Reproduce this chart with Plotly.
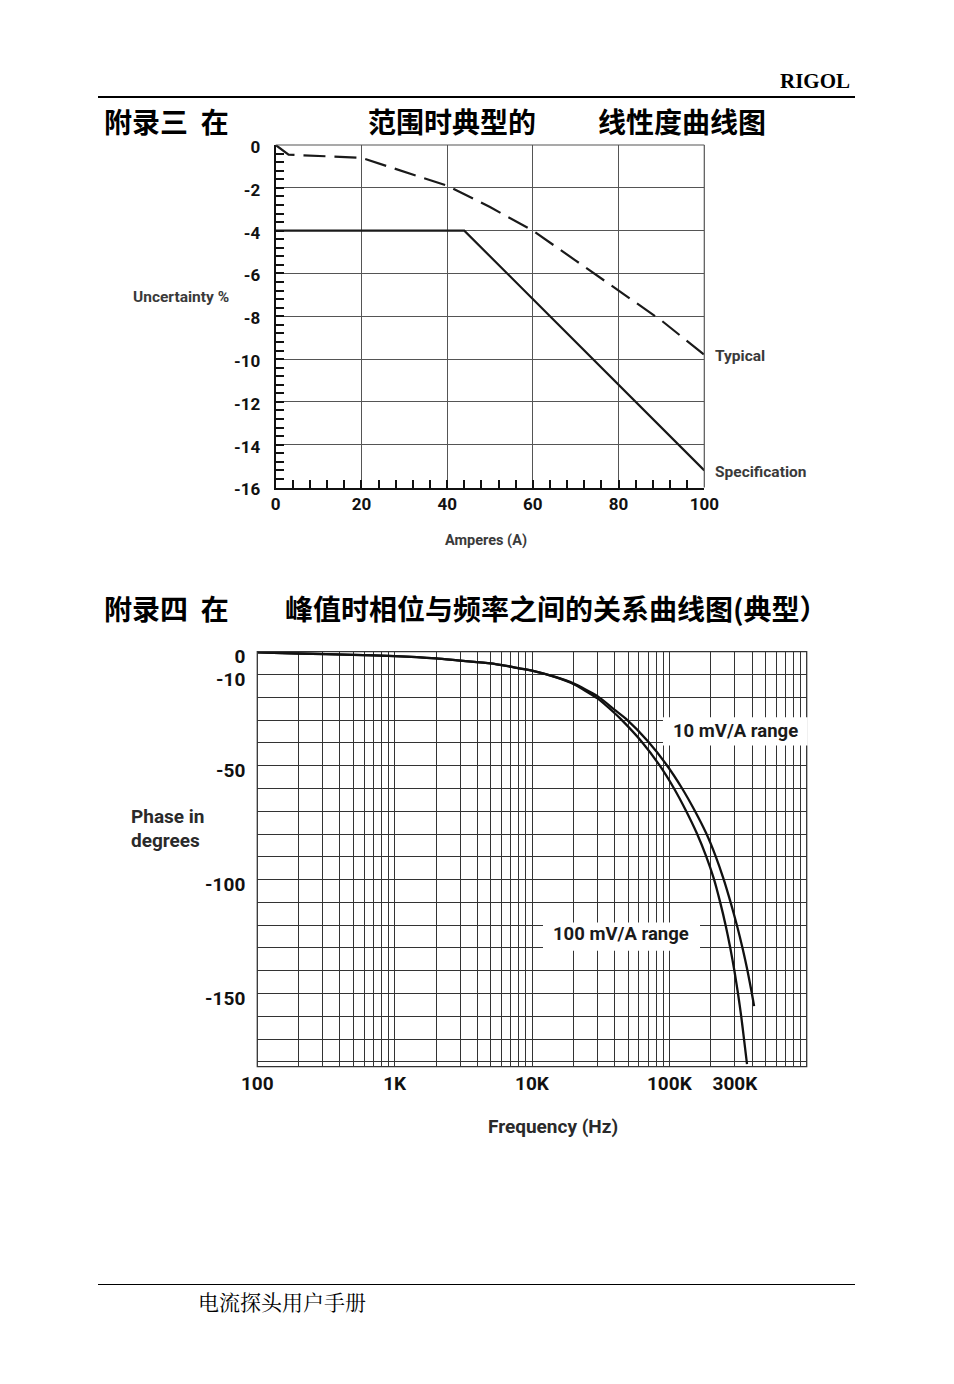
import plotly.graph_objects as go

W, H = 954, 1384

# ---------- Chart 1: uncertainty vs amperes ----------
amps_typical = [0, 3, 20, 30, 40, 50, 60, 70, 80, 90, 100]
uncert_typical = [0, -0.45, -0.6, -1.25, -1.9, -2.9, -4.0, -5.4, -6.8, -8.2, -9.8]
amps_spec = [0, 44, 100]
uncert_spec = [-4.0, -4.0, -15.2]
amp_ticks = [0, 20, 40, 60, 80, 100]
amp_ticktext = ["0", "20", "40", "60", "80", "100"]
unc_ticks = [0, -2, -4, -6, -8, -10, -12, -14, -16]
unc_ticktext = ["0", "-2", "-4", "-6", "-8", "-10", "-12", "-14", "-16"]

# ---------- Chart 2: phase vs frequency ----------
freq_10mv = [100, 200, 500, 1000, 2000, 3000, 5000, 7000, 10000, 15000, 20000,
             30000, 40000, 48400, 70300, 95600, 123000, 153200, 185500, 216800,
             248000, 279300, 310300, 340900, 370700, 399000, 414000]
phase_10mv = [-0.3, -0.8, -1.4, -1.9, -2.9, -3.9, -5.1, -6.6, -8.3, -11.2, -13.9,
              -19.5, -25.5, -29.5, -39.5, -49.7, -59.7, -69.8, -79.7, -89.6,
              -99.7, -110, -120, -130, -140, -150, -155.5]
freq_100mv = [100, 200, 500, 1000, 2000, 3000, 5000, 7000, 10000, 15000, 20000,
              30000, 40000, 44200, 62900, 84500, 107400, 132200, 158500, 184900,
              211000, 234500, 256800, 277800, 297600, 316100, 333600, 349600, 367600]
phase_100mv = [-0.3, -0.8, -1.4, -1.9, -2.9, -3.9, -5.1, -6.6, -8.3, -11.3, -14.2,
               -20.5, -27, -29.5, -39.5, -49.7, -59.7, -69.8, -79.7, -89.6,
               -99.7, -110, -120, -130, -140, -150, -160, -170, -181]
freq_labels = {100: "100", 1000: "1K", 10000: "10K", 100000: "100K", 300000: "300K"}
phase_labels = {0: "0", -10: "-10", -50: "-50", -100: "-100", -150: "-150"}

freq_grid = [m * 10 ** e for e in range(2, 6) for m in range(1, 10)] + [10 ** 6]
freq_ticktext = [freq_labels.get(v, "") for v in freq_grid]
phase_grid = list(range(0, -190, -10))
phase_ticktext = [phase_labels.get(v, "") for v in phase_grid]

FONT = "Roboto, Arial, sans-serif"
CJK = "Noto Sans CJK SC"

fig = go.Figure()

fig.add_trace(go.Scatter(x=amps_typical, y=uncert_typical, mode="lines",
                         line=dict(color="#1a1a1a", width=2.2, dash="22px,9px"),
                         xaxis="x", yaxis="y", showlegend=False))
fig.add_trace(go.Scatter(x=amps_spec, y=uncert_spec, mode="lines",
                         line=dict(color="#1a1a1a", width=2.2),
                         xaxis="x", yaxis="y", showlegend=False))
fig.add_trace(go.Scatter(x=freq_10mv, y=phase_10mv, mode="lines",
                         line=dict(color="#111", width=2.3, shape="spline", smoothing=0.6),
                         xaxis="x2", yaxis="y2", showlegend=False))
fig.add_trace(go.Scatter(x=freq_100mv, y=phase_100mv, mode="lines",
                         line=dict(color="#111", width=2.3, shape="spline", smoothing=0.6),
                         xaxis="x2", yaxis="y2", showlegend=False))

def py(y):
    return 1 - y / H

def px(x):
    return x / W

tick_font_top = dict(family=FONT, size=17, color="#111", weight="bold")
tick_font_bot = dict(family=FONT, size=19, color="#111", weight="bold")

fig.update_layout(
    width=W, height=H, autosize=False, showlegend=False,
    margin=dict(l=0, r=0, t=0, b=0, pad=0, autoexpand=False),
    paper_bgcolor="white", plot_bgcolor="white",
    xaxis=dict(domain=[px(275.7), px(704.3)], range=[0, 100], anchor="y",
               tickmode="array", tickvals=amp_ticks, ticktext=amp_ticktext,
               showgrid=True, gridcolor="#555", gridwidth=1, zeroline=False,
               showline=True, linecolor="#111", linewidth=2,
               ticks="inside", ticklen=8, tickcolor="#111", tickwidth=1.5,
               minor=dict(dtick=4, ticks="inside", ticklen=8, tickcolor="#111",
                          tickwidth=1.5, showgrid=False),
               tickfont=tick_font_top, ticklabelstandoff=0, automargin=False,
               fixedrange=True),
    yaxis=dict(domain=[py(487.5), py(145)], range=[-16, 0], anchor="x",
               tickmode="array", tickvals=unc_ticks, ticktext=unc_ticktext,
               showgrid=True, gridcolor="#555", gridwidth=1, zeroline=False,
               showline=True, linecolor="#111", linewidth=2,
               ticks="inside", ticklen=8, tickcolor="#111", tickwidth=1.5,
               minor=dict(dtick=0.4, ticks="inside", ticklen=8, tickcolor="#111",
                          tickwidth=1.5, showgrid=False),
               tickfont=tick_font_top, ticklabelstandoff=10, ticklabelshift=2,
               automargin=False, fixedrange=True),
    xaxis2=dict(domain=[px(257.3), px(806.7)], type="log", range=[2, 6], anchor="y2",
                tickmode="array", tickvals=freq_grid, ticktext=freq_ticktext,
                showgrid=True, gridcolor="#333", gridwidth=1, zeroline=False,
                showline=False, ticks="", tickfont=tick_font_bot,
                ticklabelstandoff=3, automargin=False, fixedrange=True),
    yaxis2=dict(domain=[py(1066.7), py(651.7)], range=[-182.1, 0], anchor="x2",
                tickmode="array", tickvals=phase_grid, ticktext=phase_ticktext,
                showgrid=True, gridcolor="#333", gridwidth=1, zeroline=False,
                showline=False, ticks="", tickfont=tick_font_bot,
                ticklabelstandoff=11, ticklabelshift=5, automargin=False,
                fixedrange=True),
)

shapes = [
    # top chart top/right border
    dict(type="line", xref="x domain", yref="y domain", x0=0, x1=1, y0=1, y1=1,
         line=dict(color="#555", width=1.2)),
    dict(type="line", xref="x domain", yref="y domain", x0=1, x1=1, y0=0, y1=1,
         line=dict(color="#555", width=1.2)),
    # bottom chart border
    dict(type="rect", xref="x2 domain", yref="y2 domain", x0=0, x1=1, y0=0, y1=1,
         line=dict(color="#333", width=1.3)),
    # label boxes
    dict(type="rect", xref="x2 domain", yref="y2", x0=0.7384, x1=1.002, y0=-41.2, y1=-28.8,
         fillcolor="white", line=dict(width=0)),
    dict(type="rect", xref="x2 domain", yref="y2", x0=0.520, x1=0.8058, y0=-131.2, y1=-118.8,
         fillcolor="white", line=dict(width=0)),
    # page rules
    dict(type="line", xref="paper", yref="paper", x0=px(98), x1=px(855), y0=py(97), y1=py(97),
         line=dict(color="black", width=2)),
    dict(type="line", xref="paper", yref="paper", x0=px(98), x1=px(855), y0=py(1284.5), y1=py(1284.5),
         line=dict(color="black", width=1.2)),
]
fig.update_layout(shapes=shapes)

def ann(text, x, y, size, xanchor="left", family=FONT, weight="normal", color="#222"):
    fig.add_annotation(text=text, xref="paper", yref="paper", x=px(x), y=py(y),
                       xanchor=xanchor, yanchor="middle", showarrow=False,
                       font=dict(family=family, size=size, color=color, weight=weight))

# header / footer
ann("RIGOL", 852, 81, 21, xanchor="right", family="Liberation Serif, DejaVu Serif, serif",
    weight="bold", color="black")
ann("电流探头用户手册", 196, 1301, 21, family="Noto Serif CJK SC, " + CJK, color="black")

# titles
ann("附录三  在", 102, 121, 28, family=CJK, weight="bold", color="black")
ann("范围时典型的", 366, 121, 28, family=CJK, weight="bold", color="black")
ann("线性度曲线图", 596, 121, 28, family=CJK, weight="bold", color="black")
ann("附录四  在", 102, 608, 28, family=CJK, weight="bold", color="black")
ann("峰值时相位与频率之间的关系曲线图(典型）", 283, 608, 28, family=CJK, weight="bold", color="black")

# chart 1 labels
ann("Uncertainty %", 181, 297, 15.5, xanchor="center", weight="bold", color="#3a3a3a")
ann("Typical", 713, 356, 15.5, weight="bold", color="#3a3a3a")
ann("Specification", 713, 472, 15.5, weight="bold", color="#3a3a3a")
ann("Amperes (A)", 486, 540, 14.5, xanchor="center", weight="bold", color="#3a3a3a")

# chart 2 labels
ann("Phase in", 129, 816, 19, weight="bold", color="#2a2a2a")
ann("degrees", 129, 840, 19, weight="bold", color="#2a2a2a")
ann("Frequency (Hz)", 553, 1126, 19, xanchor="center", weight="bold", color="#2a2a2a")
ann("10 mV/A range", 735.7, 731, 18.5, xanchor="center", weight="bold", color="#1a1a1a")
ann("100 mV/A range", 621, 934, 18.5, xanchor="center", weight="bold", color="#1a1a1a")

fig.write_html("out.html")
